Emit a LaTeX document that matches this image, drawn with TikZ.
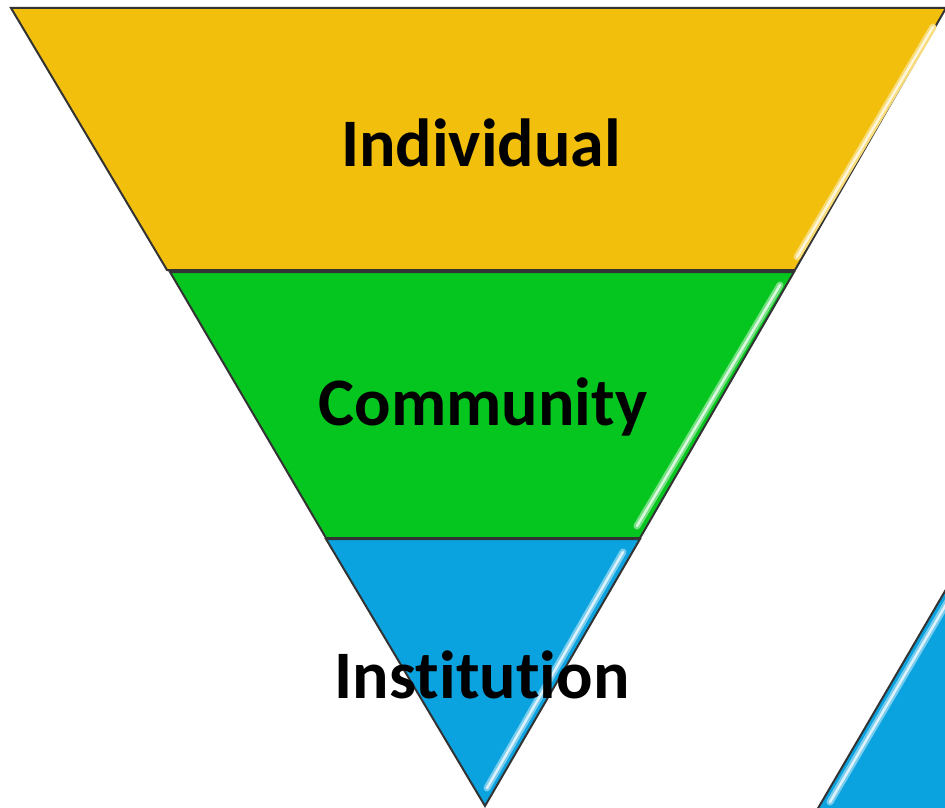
\documentclass[tikz,border=0pt]{standalone}
\usepackage{fontspec}
\setmainfont[Ligatures=NoCommon]{Carlito}
\usetikzlibrary{positioning}
\definecolor{lvlyellow}{RGB}{242,191,12}
\definecolor{lvlgreen}{RGB}{5,198,30}
\definecolor{lvlblue}{RGB}{10,163,224}

\begin{document}
\begin{tikzpicture}[x=1pt,y=-1pt,
      band/.style={
         draw=black!80,
         line width=2pt,
         line join=miter},
      gloss_wide/.style={
         line width=7pt,
         line cap=round},
      gloss_thin/.style={
         line width=2.4pt,
         line cap=round,
         white,
         opacity=0.75},
      level_txt/.style={
         font=\fontsize{68}{72}\selectfont\bfseries,
         text=black,
         inner sep=0pt},
]
      \useasboundingbox (0,0) rectangle (945,808);

      % corners of the funnel
      \coordinate (y1) at (11,8);
      \coordinate (y2) at (946,8);
      \coordinate (y3) at (795,270);
      \coordinate (y4) at (167,270);
      \coordinate (g1) at (170,272);
      \coordinate (g2) at (794,272);
      \coordinate (g3) at (640,538);
      \coordinate (g4) at (326,538);
      \coordinate (b1) at (326,539);
      \coordinate (b2) at (640,539);
      \coordinate (b3) at (485,806);

      % bands
      \draw[band,fill=lvlyellow] (y1) -- (y2) -- (y3) -- (y4) -- cycle;
      \draw[band,fill=lvlgreen] (g1) -- (g2) -- (g3) -- (g4) -- cycle;
      \draw[band,fill=lvlblue] (b1) -- (b2) -- (b3) -- cycle;

      % glossy edges
      \foreach \s/\e/\c in {% start/end/colour
        {933,27}/{797,257}/lvlyellow,
        {780,285}/{637,526}/lvlgreen,
        {623,552}/{487,788}/lvlblue}
      {
        \draw[gloss_wide,\c!55!white] (\s) -- (\e);
        \draw[gloss_thin] (\s) -- (\e);
      }

      % second funnel, cut off at the corner
      \coordinate (c1) at (948,586);
      \coordinate (c2) at (817,810);
      \coordinate (c3) at (948,810);
      \fill[lvlblue] (c1) -- (c2) -- (c3) -- cycle;
      \draw[band] (c1) -- (c2);
      \coordinate (h1) at (948,601);
      \coordinate (h2) at (830,802);
      \draw[gloss_wide,lvlblue!55!white] (h1) -- (h2);
      \draw[gloss_thin] (h1) -- (h2);

      % labels
      \node[level_txt] (ind) at (481,143) {Individual};
      \node[level_txt] (com) at (483,407) {Community};
      \node[level_txt] (ins) at (482,675) {Institution};

\end{tikzpicture}
\end{document}
